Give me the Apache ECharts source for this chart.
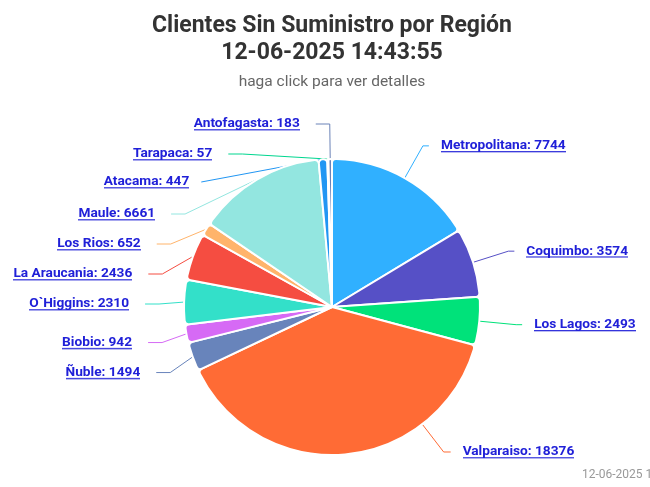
<!DOCTYPE html>
<html><head><meta charset="utf-8">
<script src="https://cdn.jsdelivr.net/npm/echarts@6/dist/echarts.min.js"></script>
<style>html,body{margin:0;padding:0;overflow:hidden;background:#fff}#c{width:664px;height:487px}</style>
</head><body><div id="c"></div>
<script>
const titleText = 'Clientes Sin Suministro por Región';
const timestamp = '12-06-2025 14:43:55';
const subtitleText = 'haga click para ver detalles';
const regions = ['Metropolitana', 'Coquimbo', 'Los Lagos', 'Valparaiso', 'Ñuble', 'Biobio', 'O`Higgins', 'La Araucania', 'Los Rios', 'Maule', 'Atacama', 'Tarapaca', 'Antofagasta'];
const clients = [7744, 3574, 2493, 18376, 1494, 942, 2310, 2436, 652, 6661, 447, 57, 183];
const colors = ['#30b0ff', '#5650c6', '#00e27a', '#ff6b35', '#6884bb', '#d66af5', '#33e0c9', '#f54d41', '#ffb46b', '#93e6e0', '#2196f3', '#00d68f', '#6b83b8'];

const LABEL_BLUE = '#2020d8';
const CX = 332, CY = 307, R = 148;
const LEN = 37, LEN2 = 6, GAP = 12;
const LEFT_SHIFT = 12;           // left-side labels sit a little further out
const LEFT_DROP = 2;             // and a touch lower
const LINE_H = 16;
const PUSHED_INDEX = 3;          // label that would fall below the chart
const PUSHED_ANCHOR_DEG = 142.4; // where its connector leaves the slice

function underlineImg() {
  const c = document.createElement('canvas');
  c.width = 4; c.height = LINE_H;
  const g = c.getContext('2d');
  g.fillStyle = LABEL_BLUE;
  g.fillRect(0, 14, 4, 1.3);
  return c;
}
const ul = underlineImg();

const data = regions.map((r, i) => ({ name: r, value: clients[i] }));
data[PUSHED_INDEX].labelLine = { length: 8 };

const chart = echarts.init(document.getElementById('c'));
chart.setOption({
  backgroundColor: '#ffffff',
  color: colors,
  title: {
    text: titleText + '\n' + timestamp,
    subtext: subtitleText,
    left: 'center',
    top: 8,
    itemGap: 6,
    textStyle: { fontFamily: 'Roboto', fontWeight: 'bold', fontSize: 23, lineHeight: 27, color: '#333333' },
    subtextStyle: { fontFamily: 'Roboto', fontSize: 15.5, lineHeight: 18, color: '#666666' }
  },
  graphic: [{
    type: 'text', left: 582, top: 469,
    style: { text: timestamp, fill: '#999999', font: '12px Roboto' }
  }],
  series: [{
    type: 'pie',
    center: [CX, CY],
    radius: [0, R],
    startAngle: 90,
    clockwise: true,
    minShowLabelAngle: 0,
    avoidLabelOverlap: true,
    itemStyle: { borderColor: '#ffffff', borderWidth: 2, borderRadius: 4 },
    label: {
      formatter: '{u|{b}: {c}}',
      distanceToLabelLine: GAP,
      minMargin: 16,
      rich: {
        u: { color: LABEL_BLUE, fontFamily: 'Roboto', fontWeight: 'bold', fontSize: 13.7, lineHeight: LINE_H, backgroundColor: { image: ul } }
      }
    },
    labelLine: { length: LEN, length2: LEN2, smooth: false, lineStyle: { width: 1 } },
    labelLayout: function (p) {
      if (p.dataIndex === PUSHED_INDEX) {
        const a = PUSHED_ANCHOR_DEG * Math.PI / 180;
        const dx = Math.sin(a), dy = -Math.cos(a);
        const p0 = [CX + R * dx, CY + R * dy];
        const p1 = [CX + (R + LEN - 2) * dx, CY + (R + LEN - 2) * dy];
        const p2 = [p1[0] + LEN2 + 1, p1[1]];
        return { x: p2[0] + GAP, y: p2[1], align: 'left', verticalAlign: 'middle', labelLinePoints: [p0, p1, p2] };
      }
      const pts = p.labelLinePoints;
      if (pts && pts.length === 3 && pts[2][0] < pts[1][0]) {
        const np = pts.map(q => [q[0], q[1]]);
        np[2][0] -= LEFT_SHIFT - 4;
        np[1][1] += LEFT_DROP;
        np[2][1] += LEFT_DROP;
        return { dx: -LEFT_SHIFT, dy: LEFT_DROP, labelLinePoints: np };
      }
      return {};
    },
    emphasis: { scale: false },
    data: data
  }]
});
</script></body></html>
